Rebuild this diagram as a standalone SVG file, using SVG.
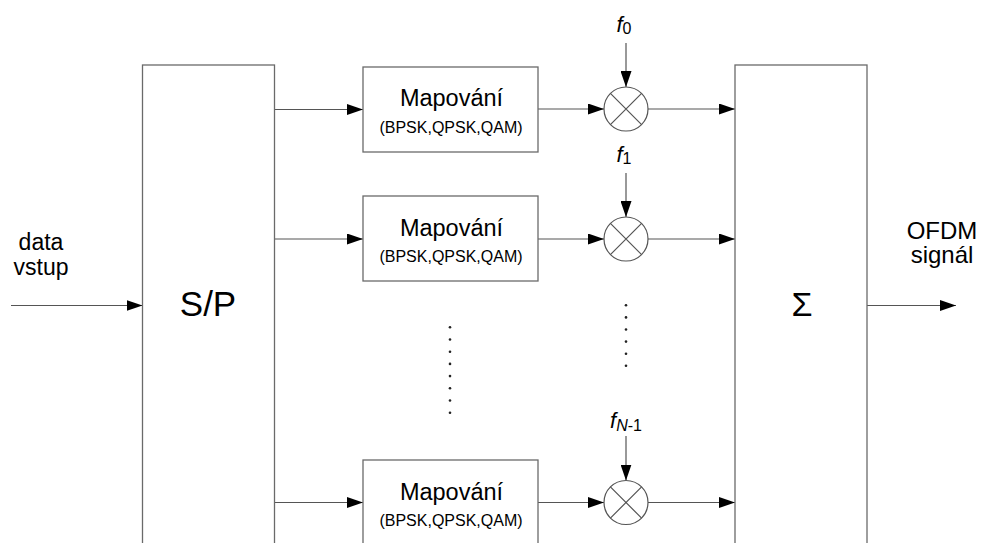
<svg xmlns="http://www.w3.org/2000/svg" width="983" height="543" viewBox="0 0 983 543">
<defs>
<marker id="ah" markerWidth="16" markerHeight="11" refX="16" refY="5.5" orient="auto" markerUnits="userSpaceOnUse">
<path d="M0,0 L16,5.5 L0,11 Z" fill="#000"/>
</marker>
<style>
.box{fill:#fff;stroke:#6a6a6a;stroke-width:1.3}
.ln{fill:none;stroke:#555;stroke-width:1.2;marker-end:url(#ah)}
.mx{fill:#fff;stroke:#555;stroke-width:1.2}
.t{font-family:"Liberation Sans",Arial,sans-serif;fill:#000;text-anchor:middle}
.m1{font-size:23.5px}
.m2{font-size:16px}
.f{font-size:22px;font-style:italic}
.dot{fill:#222}
</style>
</defs>
<rect width="983" height="543" fill="#fff"/>

<g id="connectors">
<path class="ln" d="M11,305.5 H142.5"/>
<path class="ln" d="M274.5,109.5 H363"/>
<path class="ln" d="M274.5,239 H363"/>
<path class="ln" d="M274.5,502.5 H363"/>
<path class="ln" d="M538,109 H604"/>
<path class="ln" d="M538,239 H604"/>
<path class="ln" d="M538,502.5 H604"/>
<path class="ln" d="M648,109 H735"/>
<path class="ln" d="M648,239 H735"/>
<path class="ln" d="M648,502.5 H735"/>
<path class="ln" d="M626,43 V87"/>
<path class="ln" d="M626,173 V217"/>
<path class="ln" d="M626,436 V480.5"/>
<path class="ln" d="M867,305.5 H956"/>
</g>

<g id="input-label">
<text class="t" x="41" y="250" font-size="23">data</text>
<text class="t" x="41" y="275" font-size="23">vstup</text>
</g>

<g id="sp">
<rect class="box" x="142.5" y="65" width="132" height="500"/>
<text class="t" x="208" y="316" font-size="35">S/P</text>
</g>

<g id="map1">
<rect class="box" x="363" y="67" width="175" height="85"/>
<text class="t m1" x="451.5" y="106">Mapování</text>
<text class="t m2" x="451" y="132.5">(BPSK,QPSK,QAM)</text>
</g>
<g id="map2">
<rect class="box" x="363" y="196" width="175" height="85"/>
<text class="t m1" x="451.5" y="235.5">Mapování</text>
<text class="t m2" x="451" y="262">(BPSK,QPSK,QAM)</text>
</g>
<g id="map3">
<rect class="box" x="363" y="460" width="175" height="100"/>
<text class="t m1" x="451.5" y="499.5">Mapování</text>
<text class="t m2" x="451" y="526">(BPSK,QPSK,QAM)</text>
</g>

<g id="mix1">
<circle class="mx" cx="626" cy="109" r="22"/>
<path class="mx" d="M610.4,93.4 L641.6,124.6 M641.6,93.4 L610.4,124.6"/>
<text class="t f" x="624" y="32">f<tspan font-size="16" font-style="normal" dy="2">0</tspan></text>
</g>
<g id="mix2">
<circle class="mx" cx="626" cy="239" r="22"/>
<path class="mx" d="M610.4,223.4 L641.6,254.6 M641.6,223.4 L610.4,254.6"/>
<text class="t f" x="624" y="162">f<tspan font-size="16" font-style="normal" dy="2">1</tspan></text>
</g>
<g id="mix3">
<circle class="mx" cx="626" cy="502.5" r="22"/>
<path class="mx" d="M610.4,486.9 L641.6,518.1 M641.6,486.9 L610.4,518.1"/>
<text class="t f" x="626" y="428">f<tspan font-size="16" dy="3">N</tspan><tspan font-size="16" font-style="normal">-1</tspan></text>
</g>

<g id="dots-left">
<circle class="dot" cx="450" cy="327.3" r="1.3"/>
<circle class="dot" cx="450" cy="339.5" r="1.3"/>
<circle class="dot" cx="450" cy="351.7" r="1.3"/>
<circle class="dot" cx="450" cy="363.9" r="1.3"/>
<circle class="dot" cx="450" cy="376.1" r="1.3"/>
<circle class="dot" cx="450" cy="388.3" r="1.3"/>
<circle class="dot" cx="450" cy="400.5" r="1.3"/>
<circle class="dot" cx="450" cy="412.7" r="1.3"/>
</g>
<g id="dots-right">
<circle class="dot" cx="626" cy="305.3" r="1.3"/>
<circle class="dot" cx="626" cy="317.4" r="1.3"/>
<circle class="dot" cx="626" cy="329.5" r="1.3"/>
<circle class="dot" cx="626" cy="341.6" r="1.3"/>
<circle class="dot" cx="626" cy="353.7" r="1.3"/>
<circle class="dot" cx="626" cy="365.8" r="1.3"/>
</g>

<g id="sum">
<rect class="box" x="735" y="65" width="132" height="500"/>
<text class="t" x="802" y="316" font-size="34">Σ</text>
</g>

<g id="output-label">
<text class="t" x="942" y="239" font-size="24">OFDM</text>
<text class="t" x="942" y="263" font-size="24">signál</text>
</g>
</svg>
